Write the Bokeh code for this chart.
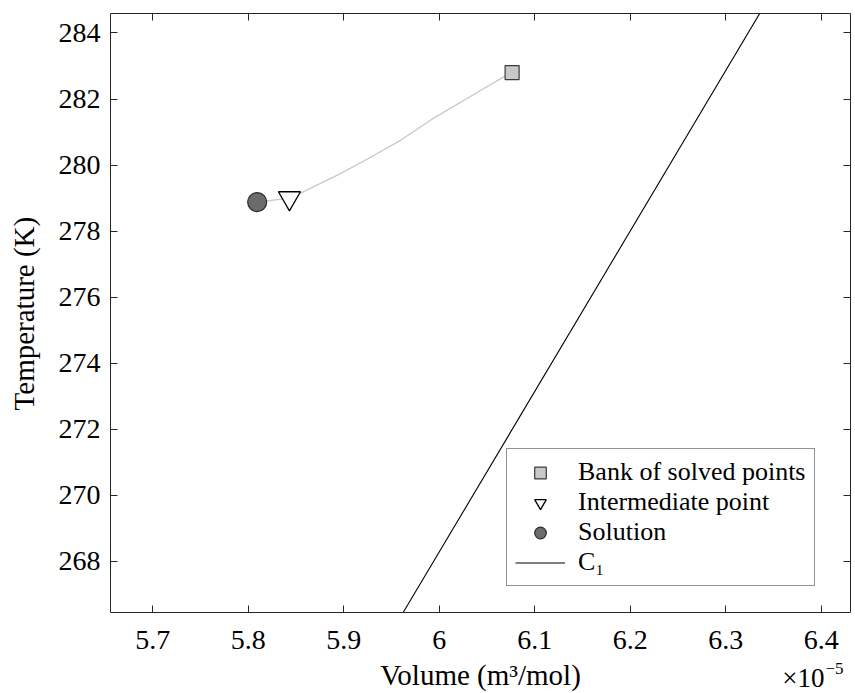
from bokeh.plotting import figure
from bokeh.models import (Range1d, LinearAxis, FixedTicker, CustomJSTickFormatter,
                          Legend, LegendItem, Label)
from bokeh.embed import file_html
from bokeh.resources import INLINE

# ---- data (volume in m^3/mol, temperature in K) ----
bank_volume = [6.0763e-5]
bank_temperature = [282.80]

intermediate_volume = [5.8431e-5]
intermediate_temperature = [279.00]

solution_volume = [5.8093e-5]
solution_temperature = [278.88]

path_volume = [5.8093e-5, 5.8431e-5, 5.8547e-5, 5.8966e-5, 5.9314e-5, 5.9594e-5,
               5.9908e-5, 6.0432e-5, 6.0675e-5, 6.0763e-5]
path_temperature = [278.88, 279.00, 279.15, 279.74, 280.29, 280.75,
                    281.36, 282.26, 282.67, 282.80]

c1_volume = [5.9622e-5, 6.35e-5]
c1_temperature = [266.45, 285.29]

x_ticks = [5.7, 5.8, 5.9, 6.0, 6.1, 6.2, 6.3, 6.4]
y_ticks = [268, 270, 272, 274, 276, 278, 280, 282, 284]

X_MIN, X_MAX = 5.6557, 6.4307      # axis limits (x 1e-5)
Y_MIN, Y_MAX = 266.45, 284.59      # axis limits (K)
Y_CANVAS_MIN = 264.0               # frame extends to the page bottom

SCALE = 1e5
FONT = "Liberation Serif"
AX = "#262626"
NBSP = "\u00a0"

def sc(v):
    return [a * SCALE for a in v]

p = figure(width=855, height=693,
           x_range=Range1d(X_MIN, X_MAX), y_range=Range1d(Y_CANVAS_MIN, Y_MAX),
           x_axis_location=None,
           output_backend="svg", toolbar_location=None,
           min_border_left=110, min_border_right=5,
           min_border_top=13, min_border_bottom=0)
p.grid.visible = False
p.outline_line_color = None

xa = LinearAxis(fixed_location=Y_MIN, ticker=FixedTicker(ticks=x_ticks),
                formatter=CustomJSTickFormatter(code="return String(Math.round(tick*10)/10)"))
p.add_layout(xa, "below")
ya = p.left[0]
ya.ticker = FixedTicker(ticks=y_ticks)
ya.bounds = (Y_MIN, Y_MAX)

for ax in (xa, ya):
    ax.major_tick_in = 7
    ax.major_tick_out = 0
    ax.minor_tick_in = 0
    ax.minor_tick_out = 0
    ax.axis_line_color = AX
    ax.major_tick_line_color = AX
    ax.major_label_text_font = FONT
    ax.major_label_text_font_size = "28px"
    ax.major_label_text_color = "black"
    ax.axis_label_text_font = FONT
    ax.axis_label_text_font_size = "29px"
    ax.axis_label_text_font_style = "normal"
    ax.axis_label_text_color = "black"

xa.axis_label = "Volume (m³/mol)"
xa.major_label_standoff = 18
xa.axis_label_standoff = 7
# label is centred on the (extended) frame: leading no-break spaces lift it to the axis centre
ya.axis_label = NBSP * 11 + "Temperature (K)"
ya.major_label_standoff = 10
ya.axis_label_standoff = 16

p.add_layout(LinearAxis(ticker=FixedTicker(ticks=x_ticks),
                        formatter=CustomJSTickFormatter(code="return ''"),
                        major_label_text_font_size="10px",
                        major_tick_in=7, major_tick_out=0, minor_tick_in=0, minor_tick_out=0,
                        major_label_standoff=0, axis_line_color=AX,
                        major_tick_line_color=AX), "above")
p.add_layout(LinearAxis(ticker=FixedTicker(ticks=y_ticks), bounds=(Y_MIN, Y_MAX),
                        formatter=CustomJSTickFormatter(code="return ''"),
                        major_label_text_font_size="10px",
                        major_tick_in=7, major_tick_out=0, minor_tick_in=0, minor_tick_out=0,
                        major_label_standoff=0, axis_line_color=AX,
                        major_tick_line_color=AX), "right")

c1 = p.line(sc(c1_volume), c1_temperature, line_color="black", line_width=1.1)
p.line(sc(path_volume), path_temperature, line_color="#c8c8c8", line_width=1.3)

bank = p.scatter(sc(bank_volume), bank_temperature, marker="square", size=14,
                 fill_color="#c8c8c8", line_color="#3a3a3a", line_width=1.2)
inter = p.scatter(sc(intermediate_volume), intermediate_temperature,
                  marker="inverted_triangle", size=22,
                  fill_color="white", line_color="black", line_width=1.3)
sol = p.scatter(sc(solution_volume), solution_temperature, marker="circle", size=19,
                fill_color="#6b6b6b", line_color="#2a2a2a", line_width=1.2)

legend = Legend(items=[
    LegendItem(label="Bank of solved points", renderers=[bank]),
    LegendItem(label="Intermediate point", renderers=[inter]),
    LegendItem(label="Solution", renderers=[sol]),
    LegendItem(label="C₁", renderers=[c1]),
], location=(396, 107), padding=8, spacing=0, margin=0,
    glyph_width=50, glyph_height=29, label_height=29, label_standoff=13,
    label_text_font=FONT, label_text_font_size="26px", label_text_color="black",
    border_line_color=AX, border_line_width=1, background_fill_color="white",
    background_fill_alpha=1.0)
p.add_layout(legend, "center")

# exponent annotation at the lower right corner
p.add_layout(Label(x=714, y=16, x_units="screen", y_units="screen",
                   text="×10", text_font=FONT, text_font_size="27px", text_color="black",
                   text_align="right", text_baseline="middle"))
p.add_layout(Label(x=715, y=25, x_units="screen", y_units="screen",
                   text="−5", text_font=FONT, text_font_size="17px", text_color="black",
                   text_align="left", text_baseline="middle"))

open("out.html", "w").write(file_html(p, INLINE))
